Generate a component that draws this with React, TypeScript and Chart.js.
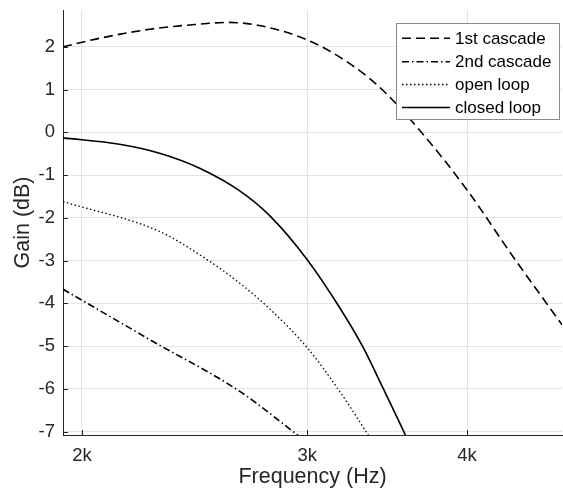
import React, { useEffect, useRef } from "react";
import { Chart, registerables } from "chart.js";

Chart.register(...registerables);

// ---- data ----
const xTickValues = [2000, 3000, 4000];
const xTickLabels = ["2k", "3k", "4k"];
const yTickValues = [-7, -6, -5, -4, -3, -2, -1, 0, 1, 2];

const seriesLabels = ["1st cascade", "2nd cascade", "open loop", "closed loop"];

const cascade1Freq = [1933, 2065, 2260, 2450, 2600, 2760, 3000, 3199, 3410, 3684, 4000, 4345, 4745];
const cascade1Gain = [2.0, 2.2, 2.41, 2.52, 2.57, 2.49, 2.16, 1.71, 1.08, 0.0, -1.35, -2.91, -4.5];

const cascade2Freq = [1933, 2260, 2657, 2960];
const cascade2Gain = [-3.67, -4.85, -6.06, -7.12];

const openFreq = [1933, 2300, 2494, 2657, 2804, 3000, 3177, 3355];
const openGain = [-1.62, -2.32, -2.94, -3.53, -4.13, -5.04, -6.04, -7.12];

const closedFreq = [1933, 2140, 2300, 2472, 2657, 2804, 3000, 3177, 3316, 3438, 3585];
const closedGain = [-0.13, -0.28, -0.49, -0.84, -1.37, -1.95, -2.98, -4.08, -5.02, -5.98, -7.12];

const xMin = 1933;
const xMax = 4745;
const yMin = -7.08;
const yMax = 2.86;

const FONT = "'Liberation Sans', Arial, Helvetica, sans-serif";
const AXIS_COLOR = "#262626";

function pts(xs: number[], ys: number[]) {
  return xs.map((x, i) => ({ x, y: ys[i] }));
}

const decorPlugin = {
  id: "decor",
  afterDatasetsDraw(chart: any) {
    const ctx = chart.ctx as CanvasRenderingContext2D;
    const { left, bottom } = chart.chartArea;
    const xs = chart.scales.x;
    const ys = chart.scales.y;
    ctx.save();
    // inward tick marks
    ctx.strokeStyle = AXIS_COLOR;
    ctx.lineWidth = 1;
    ctx.setLineDash([]);
    ctx.beginPath();
    ys.ticks.forEach((t: any) => {
      const p = Math.round(ys.getPixelForValue(t.value)) + 0.5;
      ctx.moveTo(left, p);
      ctx.lineTo(left + 5, p);
    });
    xs.ticks.forEach((t: any) => {
      const p = Math.round(xs.getPixelForValue(t.value)) + 0.5;
      ctx.moveTo(p, bottom);
      ctx.lineTo(p, bottom - 5);
    });
    ctx.stroke();

    // legend box
    const bx = 396.5, by = 23.5, bw = 163, bh = 96;
    ctx.fillStyle = "#ffffff";
    ctx.fillRect(bx, by, bw, bh);
    ctx.strokeStyle = "#8a8a8a";
    ctx.lineWidth = 1;
    ctx.strokeRect(bx, by, bw, bh);
    const rows = [38.3, 61.7, 84.5, 107.5];
    ctx.font = `17px ${FONT}`;
    ctx.textBaseline = "middle";
    ctx.textAlign = "left";
    chart.data.datasets.forEach((ds: any, i: number) => {
      const y = rows[i];
      ctx.strokeStyle = ds.borderColor;
      ctx.lineWidth = ds.borderWidth;
      ctx.setLineDash(ds.borderDash || []);
      ctx.beginPath();
      ctx.moveTo(402, y);
      ctx.lineTo(450, y);
      ctx.stroke();
      ctx.setLineDash([]);
      ctx.fillStyle = "#000000";
      ctx.fillText(ds.label, 455, y + 1);
    });
    ctx.restore();
  },
};

export default function App() {
  const canvasRef = useRef<HTMLCanvasElement | null>(null);

  useEffect(() => {
    if (!canvasRef.current) return;
    const common = {
      borderColor: "#000000",
      borderWidth: 1.6,
      pointRadius: 0,
      fill: false,
      cubicInterpolationMode: "monotone" as const,
    };
    const chart = new Chart(canvasRef.current, {
      type: "line",
      data: {
        datasets: [
          { ...common, label: seriesLabels[0], data: pts(cascade1Freq, cascade1Gain), borderDash: [9, 5] },
          { ...common, label: seriesLabels[1], data: pts(cascade2Freq, cascade2Gain), borderDash: [7, 3, 1.5, 3] },
          { ...common, label: seriesLabels[2], data: pts(openFreq, openGain), borderDash: [1.5, 2.5], borderWidth: 1.3 },
          { ...common, label: seriesLabels[3], data: pts(closedFreq, closedGain) },
        ],
      },
      options: {
        responsive: false,
        animation: false,
        layout: { padding: { top: 10, right: 1, left: 0, bottom: 0 } },
        plugins: {
          legend: { display: false },
          tooltip: { enabled: false },
        },
        scales: {
          x: {
            type: "logarithmic",
            min: xMin,
            max: xMax,
            bounds: "data",
            afterBuildTicks: (s: any) => {
              s.ticks = xTickValues.map((v) => ({ value: v }));
            },
            afterFit: (s: any) => {
              s.height = 63;
              s.paddingLeft = 0;
              s.paddingRight = 0;
            },
            ticks: {
              autoSkip: false,
              maxRotation: 0,
              padding: 10,
              color: AXIS_COLOR,
              font: { family: FONT, size: 18.5 },
              callback: (v: any) => {
                const i = xTickValues.indexOf(Number(v));
                return i >= 0 ? xTickLabels[i] : "";
              },
            },
            grid: { color: "#e3e3e3", lineWidth: 1, drawTicks: false },
            border: { display: true, color: AXIS_COLOR, width: 1 },
            title: {
              display: true,
              text: "Frequency (Hz)",
              color: AXIS_COLOR,
              font: { family: FONT, size: 21.5 },
              padding: { top: 0, bottom: 8 },
            },
          },
          y: {
            type: "linear",
            min: yMin,
            max: yMax,
            afterBuildTicks: (s: any) => {
              s.ticks = yTickValues.map((v) => ({ value: v }));
            },
            afterFit: (s: any) => {
              s.width = 63;
              s.paddingTop = 0;
              s.paddingBottom = 0;
            },
            ticks: {
              padding: 8,
              color: AXIS_COLOR,
              font: { family: FONT, size: 18.5 },
              callback: (v: any) => String(v),
            },
            grid: { color: "#e3e3e3", lineWidth: 1, drawTicks: false },
            border: { display: true, color: AXIS_COLOR, width: 1 },
            title: {
              display: true,
              text: "Gain (dB)",
              color: AXIS_COLOR,
              font: { family: FONT, size: 21.5 },
              padding: { top: 10, bottom: 0 },
            },
          },
        },
      },
      plugins: [decorPlugin],
    });
    return () => chart.destroy();
  }, []);

  return (
    <div style={{ position: "absolute", left: 0, top: 0, width: 563, height: 498, background: "#ffffff" }}>
      <canvas ref={canvasRef} width={563} height={498} style={{ display: "block", width: 563, height: 498 }} />
    </div>
  );
}
